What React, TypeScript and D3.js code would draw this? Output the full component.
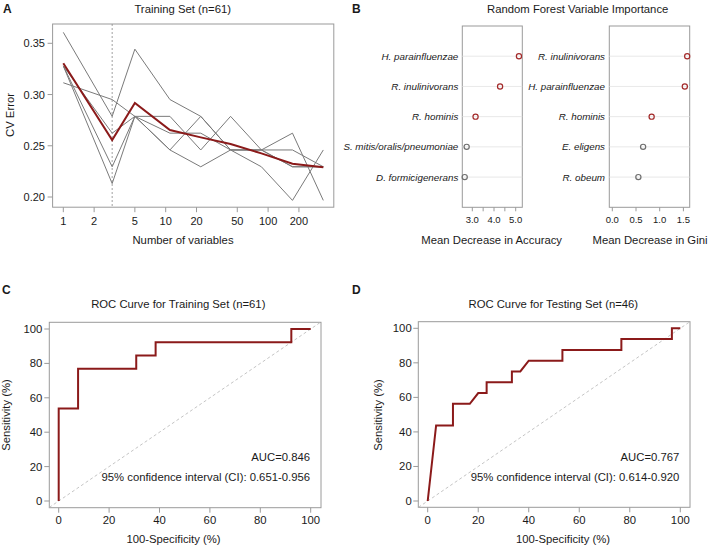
import React from "react";
import * as d3 from "d3";

// ---------- Panel A data ----------
const nVars = [1, 3, 5, 11, 22, 43, 86, 173, 346];
const cvRep1 = [0.3607, 0.2787, 0.3443, 0.2951, 0.2787, 0.2459, 0.2459, 0.2459, 0.2295];
const cvRep2 = [0.3115, 0.2951, 0.2787, 0.2787, 0.2459, 0.2787, 0.2459, 0.2623, 0.1967];
const cvRep3 = [0.3279, 0.2623, 0.2787, 0.2623, 0.2623, 0.2459, 0.2459, 0.2295, 0.2295];
const cvRep4 = [0.3279, 0.2295, 0.2787, 0.2459, 0.2787, 0.2459, 0.2459, 0.2295, 0.2295];
const cvRep5 = [0.3279, 0.2131, 0.2787, 0.2459, 0.2295, 0.2459, 0.2295, 0.1967, 0.2459];
const cvMean = [0.3305, 0.2556, 0.2917, 0.2654, 0.2582, 0.2517, 0.2426, 0.2325, 0.229];
const cvReps = [cvRep1, cvRep2, cvRep3, cvRep4, cvRep5];
const aXTicks = [1, 2, 5, 10, 20, 50, 100, 200];
const aYTicks = [0.2, 0.25, 0.3, 0.35];
const selectedN = 3;

// ---------- Panel B data ----------
const accLabels = ["H. parainfluenzae", "R. inulinivorans", "R. hominis", "S. mitis/oralis/pneumoniae", "D. formicigenerans"];
const accValues = [5.15, 4.28, 3.15, 2.74, 2.65];
const accTicks = [3.0, 3.5, 4.0, 4.5, 5.0];
const accTickLabels = ["3.0", "", "4.0", "", "5.0"];
const giniLabels = ["R. inulinivorans", "H. parainfluenzae", "R. hominis", "E. eligens", "R. obeum"];
const giniValues = [1.58, 1.53, 0.83, 0.65, 0.55];
const giniTicks = [0, 0.5, 1.0, 1.5];
const giniTickLabels = ["0.0", "0.5", "1.0", "1.5"];
const highlighted = [true, true, true, false, false];

// ---------- Panel C / D data ----------
const rocTrainFpr = [0, 0, 7.69, 7.69, 30.77, 30.77, 38.46, 38.46, 92.31, 92.31, 100];
const rocTrainTpr = [0, 53.85, 53.85, 76.92, 76.92, 84.62, 84.62, 92.31, 92.31, 100, 100];
const rocTestFpr = [0, 3.33, 10, 10, 16.67, 20, 23.33, 23.33, 33.33, 33.33, 36.67, 40, 53.33, 53.33, 76.67, 76.67, 96.67, 96.67, 100];
const rocTestTpr = [0, 43.75, 43.75, 56.25, 56.25, 62.5, 62.5, 68.75, 68.75, 75, 75, 81.25, 81.25, 87.5, 87.5, 93.75, 93.75, 100, 100];
const rocTicks = [0, 20, 40, 60, 80, 100];

const FONT = "Liberation Sans, Arial, Helvetica, sans-serif";
const TXT = "#1a1a1a";
const BOX = "#9a9a9a";
const RED = "#8b1a1a";

function PanelA() {
  const box = { l: 52.6, r: 333.8, t: 24, b: 207.2 };
  const x = d3.scaleLog().domain([1, 346]).range([63.3, 323.3]);
  const y = d3.scaleLinear().domain([0.2, 0.35]).range([197, 43.3]);
  const line = d3.line<number>().x((_, i) => x(nVars[i])).y((v) => y(v));
  return (
    <g>
      <text x={3} y={12.5} fontSize={12} fontWeight="bold" fontFamily={FONT} fill={TXT}>A</text>
      <text x={182.7} y={12.5} fontSize={11.3} textAnchor="middle" fontFamily={FONT} fill={TXT}>Training Set (n=61)</text>
      <rect x={box.l} y={box.t} width={box.r - box.l} height={box.b - box.t} fill="none" stroke={BOX} strokeWidth={1} />
      <line x1={x(selectedN)} x2={x(selectedN)} y1={box.t} y2={box.b} stroke="#888" strokeWidth={0.8} strokeDasharray="2,2" />
      {cvReps.map((rep, i) => (
        <path key={i} d={line(rep) || ""} fill="none" stroke="#7a7a7a" strokeWidth={1} />
      ))}
      <path d={line(cvMean) || ""} fill="none" stroke={RED} strokeWidth={2} />
      {aXTicks.map((t) => (
        <g key={t}>
          <line x1={x(t)} x2={x(t)} y1={box.b} y2={box.b + 5} stroke={BOX} />
          <text x={x(t)} y={225} fontSize={11} textAnchor="middle" fontFamily={FONT} fill={TXT}>{t}</text>
        </g>
      ))}
      {aYTicks.map((t) => (
        <g key={t}>
          <line x1={box.l - 5} x2={box.l} y1={y(t)} y2={y(t)} stroke={BOX} />
          <text x={45} y={y(t) + 4} fontSize={11} textAnchor="end" fontFamily={FONT} fill={TXT}>{t.toFixed(2)}</text>
        </g>
      ))}
      <text x={183} y={244} fontSize={11.3} textAnchor="middle" fontFamily={FONT} fill={TXT}>Number of variables</text>
      <text transform="translate(14,115) rotate(-90)" fontSize={11.3} textAnchor="middle" fontFamily={FONT} fill={TXT}>CV Error</text>
    </g>
  );
}

function DotPanel(props: {
  labels: string[]; values: number[]; ticks: number[]; tickLabels: string[];
  domain: [number, number]; range: [number, number]; box: { l: number; r: number };
  labelX: number; title: string; titleX: number;
}) {
  const { labels, values, ticks, tickLabels, domain, range, box, labelX, title, titleX } = props;
  const top = 26, bottom = 207.3;
  const x = d3.scaleLinear().domain(domain).range(range);
  const y = d3.scaleLinear().domain([0, 6]).range([bottom, top]);
  const n = labels.length;
  return (
    <g>
      <rect x={box.l} y={top} width={box.r - box.l} height={bottom - top} fill="none" stroke={BOX} />
      {labels.map((lab, i) => {
        const yy = y(n - i);
        return (
          <g key={lab}>
            <line x1={box.l} x2={box.r} y1={yy} y2={yy} stroke="#e2e2e2" strokeWidth={0.8} />
            <text x={labelX} y={yy + 3.5} fontSize={9.8} fontStyle="italic" textAnchor="end" fontFamily={FONT} fill={TXT}>{lab}</text>
            <circle cx={x(values[i])} cy={yy} r={2.6} fill="none" stroke={highlighted[i] ? "#a32a2a" : "#6e6e6e"} strokeWidth={1.2} />
          </g>
        );
      })}
      {ticks.map((t, i) => (
        <g key={t}>
          <line x1={x(t)} x2={x(t)} y1={bottom} y2={bottom + 4} stroke={BOX} />
          {tickLabels[i] && (
            <text x={x(t)} y={223} fontSize={9.5} textAnchor="middle" fontFamily={FONT} fill={TXT}>{tickLabels[i]}</text>
          )}
        </g>
      ))}
      <text x={titleX} y={243.5} fontSize={11.3} textAnchor="middle" fontFamily={FONT} fill={TXT}>{title}</text>
    </g>
  );
}

function PanelB() {
  return (
    <g>
      <text x={352} y={12.5} fontSize={12} fontWeight="bold" fontFamily={FONT} fill={TXT}>B</text>
      <text x={577.7} y={12.5} fontSize={11.3} textAnchor="middle" fontFamily={FONT} fill={TXT}>Random Forest Variable Importance</text>
      <DotPanel labels={accLabels} values={accValues} ticks={accTicks} tickLabels={accTickLabels}
        domain={[3, 5]} range={[472.3, 515.7]} box={{ l: 462.3, r: 522.3 }} labelX={458.3}
        title="Mean Decrease in Accuracy" titleX={491.7} />
      <DotPanel labels={giniLabels} values={giniValues} ticks={giniTicks} tickLabels={giniTickLabels}
        domain={[0, 1.5]} range={[612.3, 683.4]} box={{ l: 609.3, r: 689.7 }} labelX={605}
        title="Mean Decrease in Gini" titleX={650} />
    </g>
  );
}

function RocPanel(props: {
  letter: string; letterX: number; title: string; titleX: number;
  box: { l: number; r: number; t: number; b: number };
  xr: [number, number]; yr: [number, number];
  fpr: number[]; tpr: number[]; auc: string; ci: string; textRight: number;
  yTickRight: number; yLabelX: number; xLabelX: number;
}) {
  const { letter, letterX, title, titleX, box, xr, yr, fpr, tpr, auc, ci, textRight, yTickRight, yLabelX, xLabelX } = props;
  const x = d3.scaleLinear().domain([0, 100]).range(xr);
  const y = d3.scaleLinear().domain([0, 100]).range(yr);
  const line = d3.line<number>().x((v) => x(v)).y((_, i) => y(tpr[i]));
  const x0 = x.invert(box.l), x1 = x.invert(box.r);
  const y0 = y.invert(box.b), y1 = y.invert(box.t);
  const dLo = Math.max(x0, y0), dHi = Math.min(x1, y1);
  return (
    <g>
      <text x={letterX} y={294} fontSize={12} fontWeight="bold" fontFamily={FONT} fill={TXT}>{letter}</text>
      <text x={titleX} y={307.8} fontSize={11.3} textAnchor="middle" fontFamily={FONT} fill={TXT}>{title}</text>
      <rect x={box.l} y={box.t} width={box.r - box.l} height={box.b - box.t} fill="none" stroke={BOX} />
      <line x1={x(dLo)} y1={y(dLo)} x2={x(dHi)} y2={y(dHi)} stroke="#bdbdbd" strokeWidth={0.9} strokeDasharray="3,2.5" />
      <path d={line(fpr) || ""} fill="none" stroke={RED} strokeWidth={2} />
      {rocTicks.map((t) => (
        <g key={t}>
          <line x1={x(t)} x2={x(t)} y1={box.b} y2={box.b + 5} stroke={BOX} />
          <text x={x(t)} y={523.5} fontSize={11.3} textAnchor="middle" fontFamily={FONT} fill={TXT}>{t}</text>
          <line x1={box.l - 5} x2={box.l} y1={y(t)} y2={y(t)} stroke={BOX} />
          <text x={yTickRight} y={y(t) + 4} fontSize={11.3} textAnchor="end" fontFamily={FONT} fill={TXT}>{t}</text>
        </g>
      ))}
      <text x={textRight} y={460.5} fontSize={11.3} textAnchor="end" fontFamily={FONT} fill={TXT}>{auc}</text>
      <text x={textRight} y={480.6} fontSize={11.3} textAnchor="end" fontFamily={FONT} fill={TXT}>{ci}</text>
      <text x={xLabelX} y={543} fontSize={11.3} textAnchor="middle" fontFamily={FONT} fill={TXT}>100-Specificity (%)</text>
      <text transform={`translate(${yLabelX},415) rotate(-90)`} fontSize={11.3} textAnchor="middle" fontFamily={FONT} fill={TXT}>Sensitivity (%)</text>
    </g>
  );
}

export default function App() {
  return (
    <svg width={708} height={548} style={{ position: "absolute", left: 0, top: 0, background: "#fff" }}>
      <rect x={0} y={0} width={708} height={548} fill="#fff" />
      <PanelA />
      <PanelB />
      <RocPanel letter="C" letterX={2} title="ROC Curve for Training Set (n=61)" titleX={178.3}
        box={{ l: 49.3, r: 321, t: 322.3, b: 507.7 }} xr={[58.7, 310.7]} yr={[501, 329]}
        fpr={rocTrainFpr} tpr={rocTrainTpr} auc="AUC=0.846" ci="95% confidence interval (CI): 0.651-0.956"
        textRight={310} yTickRight={42.3} yLabelX={10} xLabelX={173.5} />
      <RocPanel letter="D" letterX={352} title="ROC Curve for Testing Set (n=46)" titleX={553.3}
        box={{ l: 418.3, r: 690, t: 321.7, b: 507.3 }} xr={[427.7, 680.3]} yr={[501, 328.3]}
        fpr={rocTestFpr} tpr={rocTestTpr} auc="AUC=0.767" ci="95% confidence interval (CI): 0.614-0.920"
        textRight={679.3} yTickRight={411.7} yLabelX={381.5} xLabelX={563} />
    </svg>
  );
}
